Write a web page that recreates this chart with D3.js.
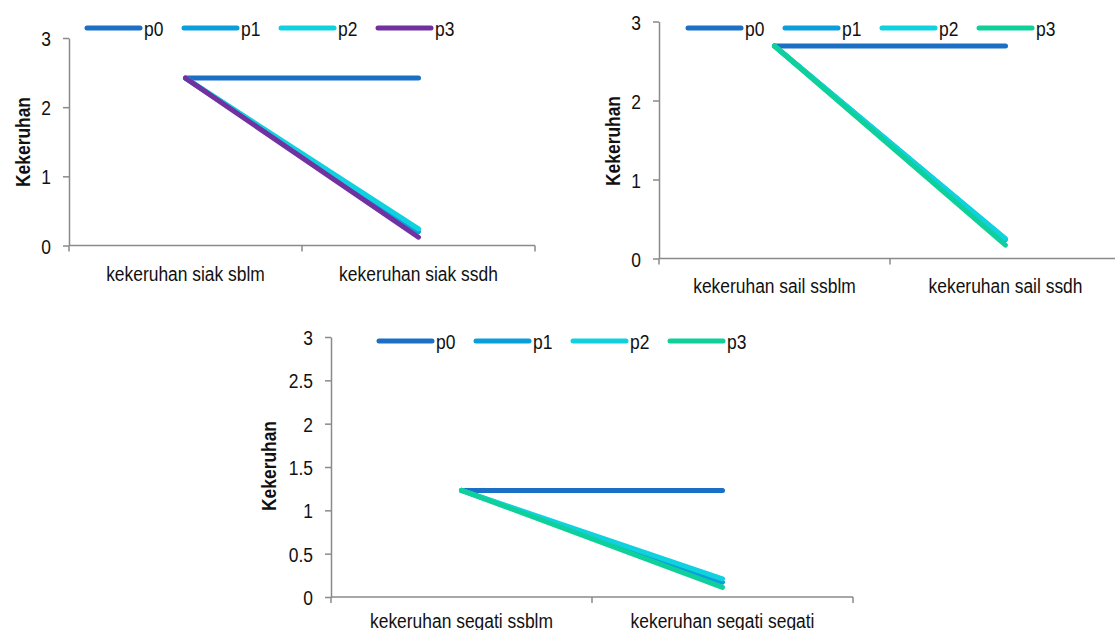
<!DOCTYPE html>
<html>
<head>
<meta charset="utf-8">
<script src="https://cdn.jsdelivr.net/npm/d3@7"></script>
<style>
    body { margin: 0; background: #fff; }
    svg { display: block; }
</style>
</head>
<body>
<div id="chart"></div>
<script>
// series names and colours
const seriesNames = ['p0', 'p1', 'p2', 'p3'];
const coloursPurple = ['#1b70c5', '#0a9fdb', '#10d1de', '#7131a1'];
const coloursGreen = ['#1b70c5', '#0a9fdb', '#10d1de', '#0fd09a'];

// panel 1 - siak
const siakCategories = ['kekeruhan siak sblm', 'kekeruhan siak ssdh'];
const siakP0 = [2.42, 2.42];
const siakP1 = [2.42, 0.20];
const siakP2 = [2.42, 0.24];
const siakP3 = [2.42, 0.12];
const siakTicks = [0, 1, 2, 3];

// panel 2 - sail
const sailCategories = ['kekeruhan sail ssblm', 'kekeruhan sail ssdh'];
const sailP0 = [2.69, 2.69];
const sailP1 = [2.69, 0.24];
const sailP2 = [2.69, 0.25];
const sailP3 = [2.69, 0.17];
const sailTicks = [0, 1, 2, 3];

// panel 3 - segati
const segatiCategories = ['kekeruhan segati ssblm', 'kekeruhan segati segati'];
const segatiP0 = [1.23, 1.23];
const segatiP1 = [1.23, 0.17];
const segatiP2 = [1.23, 0.21];
const segatiP3 = [1.23, 0.11];
const segatiTicks = [0, 0.5, 1, 1.5, 2, 2.5, 3];

const yTitle = 'Kekeruhan';
const FONT = '"Liberation Sans", Arial, sans-serif';
const SQUEEZE = 0.83;
const AXIS_COLOR = '#8a8a8a';

const svg = d3.select('#chart')
    .append('svg')
    .attr('width', 1115)
    .attr('height', 630);

svg.append('rect')
    .attr('width', 1115)
    .attr('height', 630)
    .attr('fill', '#fff');

function drawPanel(opts) {
    const g = svg.append('g');

    const x = d3.scaleBand()
        .domain(opts.categories)
        .range([opts.x0, opts.x1])
        .padding(0);

    const y = d3.scaleLinear()
        .domain([0, 3])
        .range([opts.y0, opts.y1]);

    // y axis
    const yAxis = g.append('g')
        .attr('transform', `translate(${opts.x0},0)`)
        .call(d3.axisLeft(y)
            .tickValues(opts.ticks)
            .tickSize(6)
            .tickSizeOuter(0)
            .tickFormat(d => d));

    yAxis.select('.domain').attr('stroke', AXIS_COLOR).attr('stroke-width', 1.5);
    yAxis.selectAll('.tick line').attr('stroke', AXIS_COLOR).attr('stroke-width', 1.5);
    yAxis.selectAll('.tick text')
        .attr('x', null)
        .attr('dy', '0.36em')
        .attr('transform', `translate(-18,0) scale(${SQUEEZE},1)`)
        .attr('fill', '#111')
        .style('font-family', FONT)
        .style('font-size', '21px');

    // x axis line and ticks at category boundaries
    g.append('line')
        .attr('x1', opts.x0)
        .attr('x2', opts.x1)
        .attr('y1', y(0))
        .attr('y2', y(0))
        .attr('stroke', AXIS_COLOR)
        .attr('stroke-width', 1.5);

    const bounds = opts.categories.map(c => x(c)).concat([opts.x1]);
    g.selectAll('.xtick')
        .data(bounds)
        .enter()
        .append('line')
        .attr('class', 'xtick')
        .attr('x1', d => d)
        .attr('x2', d => d)
        .attr('y1', y(0))
        .attr('y2', y(0) + 6)
        .attr('stroke', AXIS_COLOR)
        .attr('stroke-width', 1.5);

    g.selectAll('.xlabel')
        .data(opts.categories)
        .enter()
        .append('text')
        .attr('class', 'xlabel')
        .attr('transform', d => `translate(${x(d) + x.bandwidth() / 2},${y(0) + opts.labelGap}) scale(${SQUEEZE},1)`)
        .attr('text-anchor', 'middle')
        .attr('fill', '#111')
        .style('font-family', FONT)
        .style('font-size', '21px')
        .text(d => d);

    // y title
    g.append('text')
        .attr('transform', `translate(${opts.titleX},${opts.titleY}) rotate(-90) scale(${SQUEEZE},1)`)
        .attr('text-anchor', 'middle')
        .attr('dy', '0.36em')
        .attr('fill', '#111')
        .style('font-family', FONT)
        .style('font-size', '21px')
        .style('font-weight', 'bold')
        .text(yTitle);

    // lines
    const line = d3.line()
        .x((d, i) => x(opts.categories[i]) + x.bandwidth() / 2)
        .y(d => y(d));

    opts.series.forEach((values, i) => {
        g.append('path')
            .datum(values)
            .attr('d', line)
            .attr('fill', 'none')
            .attr('stroke', opts.colours[i])
            .attr('stroke-width', 5)
            .attr('stroke-linecap', 'round')
            .attr('stroke-linejoin', 'round');
    });

    // legend
    const legend = g.append('g')
        .attr('transform', `translate(${opts.legendX},${opts.legendY})`);

    seriesNames.forEach((name, i) => {
        const item = legend.append('g')
            .attr('transform', `translate(${i * 97},0)`);
        item.append('line')
            .attr('x1', 0)
            .attr('x2', 53)
            .attr('y1', 0)
            .attr('y2', 0)
            .attr('stroke', opts.colours[i])
            .attr('stroke-width', 5)
            .attr('stroke-linecap', 'round');
        item.append('text')
            .attr('transform', `translate(57,0) scale(${SQUEEZE},1)`)
            .attr('dy', '0.36em')
            .attr('fill', '#111')
            .style('font-family', FONT)
            .style('font-size', '21px')
            .text(name);
    });
}

drawPanel({
    categories: siakCategories,
    series: [siakP0, siakP1, siakP2, siakP3],
    ticks: siakTicks,
    colours: coloursPurple,
    x0: 69, x1: 535, y0: 245.5, y1: 38,
    titleX: 22, titleY: 142,
    legendX: 87, legendY: 28,
    labelGap: 35
});

drawPanel({
    categories: sailCategories,
    series: [sailP0, sailP1, sailP2, sailP3],
    ticks: sailTicks,
    colours: coloursGreen,
    x0: 659, x1: 1121, y0: 258.5, y1: 21.5,
    titleX: 612, titleY: 141,
    legendX: 688, legendY: 28,
    labelGap: 34
});

drawPanel({
    categories: segatiCategories,
    series: [segatiP0, segatiP1, segatiP2, segatiP3],
    ticks: segatiTicks,
    colours: coloursGreen,
    x0: 331, x1: 853, y0: 597, y1: 337,
    titleX: 268, titleY: 466,
    legendX: 379, legendY: 341,
    labelGap: 31
});
</script>
</body>
</html>
